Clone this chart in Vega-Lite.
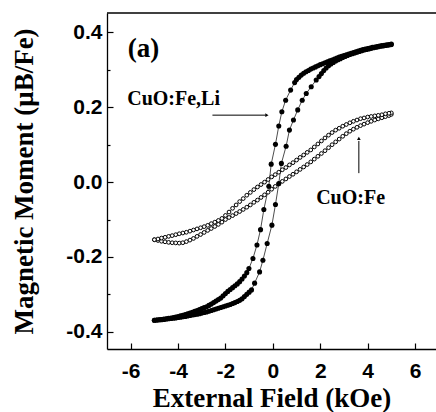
{
"$schema":"https://vega.github.io/schema/vega-lite/v6.json",
"width":329,"height":336,
"autosize":{"type":"none"},
"padding":{"left":107,"top":13,"right":0,"bottom":63},
"background":"white",
"config":{"view":{"stroke":null}},
"datasets":{
"loops":[
{"s":"L","x":-5.0,"y":-0.369},{"s":"L","x":-4.9,"y":-0.3685},{"s":"L","x":-4.8,"y":-0.368},{"s":"L","x":-4.7,"y":-0.3675},{"s":"L","x":-4.6,"y":-0.367},{"s":"L","x":-4.5,"y":-0.366},{"s":"L","x":-4.4,"y":-0.365},{"s":"L","x":-4.3,"y":-0.3645},{"s":"L","x":-4.2,"y":-0.364},{"s":"L","x":-4.1,"y":-0.363},{"s":"L","x":-4.0,"y":-0.362},{"s":"L","x":-3.9,"y":-0.361},{"s":"L","x":-3.8,"y":-0.360},{"s":"L","x":-3.7,"y":-0.359},{"s":"L","x":-3.6,"y":-0.358},{"s":"L","x":-3.5,"y":-0.3565},{"s":"L","x":-3.4,"y":-0.355},{"s":"L","x":-3.3,"y":-0.354},{"s":"L","x":-3.2,"y":-0.353},{"s":"L","x":-3.1,"y":-0.3515},{"s":"L","x":-3.0,"y":-0.350},{"s":"L","x":-2.9,"y":-0.3485},{"s":"L","x":-2.8,"y":-0.347},{"s":"L","x":-2.7,"y":-0.345},{"s":"L","x":-2.6,"y":-0.343},{"s":"L","x":-2.5,"y":-0.341},{"s":"L","x":-2.4,"y":-0.339},{"s":"L","x":-2.3,"y":-0.337},{"s":"L","x":-2.2,"y":-0.335},{"s":"L","x":-2.1,"y":-0.333},{"s":"L","x":-2.0,"y":-0.331},{"s":"L","x":-1.9,"y":-0.329},{"s":"L","x":-1.8,"y":-0.327},{"s":"L","x":-1.7,"y":-0.3245},{"s":"L","x":-1.6,"y":-0.322},{"s":"L","x":-1.5,"y":-0.319},{"s":"L","x":-1.4,"y":-0.316},{"s":"L","x":-1.3,"y":-0.312},{"s":"L","x":-1.2,"y":-0.306},{"s":"L","x":-1.1,"y":-0.300},{"s":"L","x":-1.0,"y":-0.294},{"s":"L","x":-0.9,"y":-0.288},{"s":"L","x":-0.77,"y":-0.270},{"s":"L","x":-0.56,"y":-0.240},{"s":"L","x":-0.42,"y":-0.209},{"s":"L","x":-0.24,"y":-0.164},{"s":"L","x":-0.04,"y":-0.115},{"s":"L","x":0.11,"y":-0.060},{"s":"L","x":0.25,"y":-0.004},{"s":"L","x":0.36,"y":0.050},{"s":"L","x":0.56,"y":0.096},{"s":"L","x":0.70,"y":0.139},{"s":"L","x":0.87,"y":0.166},{"s":"L","x":1.05,"y":0.193},{"s":"L","x":1.24,"y":0.219},{"s":"L","x":1.41,"y":0.237},{"s":"L","x":1.62,"y":0.255},{"s":"L","x":1.83,"y":0.273},{"s":"L","x":1.95,"y":0.282},{"s":"L","x":2.05,"y":0.290},{"s":"L","x":2.15,"y":0.298},{"s":"L","x":2.25,"y":0.305},{"s":"L","x":2.35,"y":0.311},{"s":"L","x":2.45,"y":0.316},{"s":"L","x":2.55,"y":0.320},{"s":"L","x":2.65,"y":0.324},{"s":"L","x":2.75,"y":0.327},{"s":"L","x":2.85,"y":0.330},{"s":"L","x":2.95,"y":0.333},{"s":"L","x":3.05,"y":0.336},{"s":"L","x":3.15,"y":0.3385},{"s":"L","x":3.25,"y":0.341},{"s":"L","x":3.35,"y":0.343},{"s":"L","x":3.45,"y":0.345},{"s":"L","x":3.55,"y":0.347},{"s":"L","x":3.65,"y":0.349},{"s":"L","x":3.75,"y":0.351},{"s":"L","x":3.85,"y":0.353},{"s":"L","x":3.95,"y":0.3545},{"s":"L","x":4.05,"y":0.356},{"s":"L","x":4.15,"y":0.3575},{"s":"L","x":4.25,"y":0.359},{"s":"L","x":4.35,"y":0.3605},{"s":"L","x":4.45,"y":0.362},{"s":"L","x":4.55,"y":0.363},{"s":"L","x":4.65,"y":0.364},{"s":"L","x":4.75,"y":0.365},{"s":"L","x":4.85,"y":0.366},{"s":"L","x":4.95,"y":0.367},{"s":"L","x":5.0,"y":0.368},
{"s":"L","x":5.0,"y":0.369},{"s":"L","x":4.9,"y":0.368},{"s":"L","x":4.8,"y":0.367},{"s":"L","x":4.7,"y":0.366},{"s":"L","x":4.6,"y":0.365},{"s":"L","x":4.5,"y":0.3635},{"s":"L","x":4.4,"y":0.362},{"s":"L","x":4.3,"y":0.361},{"s":"L","x":4.2,"y":0.360},{"s":"L","x":4.1,"y":0.3585},{"s":"L","x":4.0,"y":0.357},{"s":"L","x":3.9,"y":0.3555},{"s":"L","x":3.8,"y":0.354},{"s":"L","x":3.7,"y":0.352},{"s":"L","x":3.6,"y":0.350},{"s":"L","x":3.5,"y":0.348},{"s":"L","x":3.4,"y":0.346},{"s":"L","x":3.3,"y":0.344},{"s":"L","x":3.2,"y":0.342},{"s":"L","x":3.1,"y":0.340},{"s":"L","x":3.0,"y":0.338},{"s":"L","x":2.9,"y":0.336},{"s":"L","x":2.8,"y":0.334},{"s":"L","x":2.7,"y":0.3315},{"s":"L","x":2.6,"y":0.329},{"s":"L","x":2.5,"y":0.3265},{"s":"L","x":2.4,"y":0.324},{"s":"L","x":2.3,"y":0.3215},{"s":"L","x":2.2,"y":0.319},{"s":"L","x":2.1,"y":0.3165},{"s":"L","x":2.0,"y":0.314},{"s":"L","x":1.9,"y":0.311},{"s":"L","x":1.8,"y":0.308},{"s":"L","x":1.7,"y":0.305},{"s":"L","x":1.6,"y":0.302},{"s":"L","x":1.5,"y":0.2985},{"s":"L","x":1.4,"y":0.295},{"s":"L","x":1.3,"y":0.291},{"s":"L","x":1.2,"y":0.286},{"s":"L","x":1.1,"y":0.280},{"s":"L","x":1.0,"y":0.274},{"s":"L","x":0.92,"y":0.266},{"s":"L","x":0.75,"y":0.246},{"s":"L","x":0.54,"y":0.219},{"s":"L","x":0.38,"y":0.188},{"s":"L","x":0.25,"y":0.150},{"s":"L","x":0.11,"y":0.101},{"s":"L","x":-0.07,"y":0.048},{"s":"L","x":-0.17,"y":-0.011},{"s":"L","x":-0.38,"y":-0.073},{"s":"L","x":-0.52,"y":-0.127},{"s":"L","x":-0.67,"y":-0.168},{"s":"L","x":-0.84,"y":-0.204},{"s":"L","x":-1.01,"y":-0.231},{"s":"L","x":-1.1,"y":-0.242},{"s":"L","x":-1.2,"y":-0.251},{"s":"L","x":-1.3,"y":-0.259},{"s":"L","x":-1.4,"y":-0.266},{"s":"L","x":-1.5,"y":-0.272},{"s":"L","x":-1.6,"y":-0.277},{"s":"L","x":-1.7,"y":-0.282},{"s":"L","x":-1.8,"y":-0.287},{"s":"L","x":-1.9,"y":-0.292},{"s":"L","x":-2.0,"y":-0.298},{"s":"L","x":-2.1,"y":-0.304},{"s":"L","x":-2.2,"y":-0.310},{"s":"L","x":-2.3,"y":-0.314},{"s":"L","x":-2.4,"y":-0.318},{"s":"L","x":-2.5,"y":-0.322},{"s":"L","x":-2.6,"y":-0.326},{"s":"L","x":-2.7,"y":-0.3295},{"s":"L","x":-2.8,"y":-0.333},{"s":"L","x":-2.9,"y":-0.3355},{"s":"L","x":-3.0,"y":-0.338},{"s":"L","x":-3.1,"y":-0.3405},{"s":"L","x":-3.2,"y":-0.343},{"s":"L","x":-3.3,"y":-0.3455},{"s":"L","x":-3.4,"y":-0.348},{"s":"L","x":-3.5,"y":-0.350},{"s":"L","x":-3.6,"y":-0.352},{"s":"L","x":-3.7,"y":-0.354},{"s":"L","x":-3.8,"y":-0.356},{"s":"L","x":-3.9,"y":-0.3575},{"s":"L","x":-4.0,"y":-0.359},{"s":"L","x":-4.1,"y":-0.3605},{"s":"L","x":-4.2,"y":-0.362},{"s":"L","x":-4.3,"y":-0.363},{"s":"L","x":-4.4,"y":-0.364},{"s":"L","x":-4.5,"y":-0.365},{"s":"L","x":-4.6,"y":-0.366},{"s":"L","x":-4.7,"y":-0.367},{"s":"L","x":-4.8,"y":-0.368},{"s":"L","x":-4.9,"y":-0.3685},{"s":"L","x":-5.0,"y":-0.369},
{"s":"F","x":-5.0,"y":-0.154},{"s":"F","x":-4.85,"y":-0.156},{"s":"F","x":-4.7,"y":-0.158},{"s":"F","x":-4.55,"y":-0.1595},{"s":"F","x":-4.4,"y":-0.161},{"s":"F","x":-4.25,"y":-0.162},{"s":"F","x":-4.1,"y":-0.1625},{"s":"F","x":-3.95,"y":-0.163},{"s":"F","x":-3.8,"y":-0.162},{"s":"F","x":-3.65,"y":-0.159},{"s":"F","x":-3.5,"y":-0.155},{"s":"F","x":-3.35,"y":-0.1505},{"s":"F","x":-3.2,"y":-0.145},{"s":"F","x":-3.05,"y":-0.140},{"s":"F","x":-2.9,"y":-0.1345},{"s":"F","x":-2.75,"y":-0.129},{"s":"F","x":-2.6,"y":-0.124},{"s":"F","x":-2.45,"y":-0.1185},{"s":"F","x":-2.3,"y":-0.113},{"s":"F","x":-2.15,"y":-0.107},{"s":"F","x":-2.0,"y":-0.100},{"s":"F","x":-1.85,"y":-0.0945},{"s":"F","x":-1.7,"y":-0.0895},{"s":"F","x":-1.55,"y":-0.084},{"s":"F","x":-1.4,"y":-0.0785},{"s":"F","x":-1.25,"y":-0.073},{"s":"F","x":-1.1,"y":-0.067},{"s":"F","x":-0.95,"y":-0.061},{"s":"F","x":-0.8,"y":-0.054},{"s":"F","x":-0.65,"y":-0.048},{"s":"F","x":-0.5,"y":-0.041},{"s":"F","x":-0.35,"y":-0.034},{"s":"F","x":-0.2,"y":-0.027},{"s":"F","x":-0.05,"y":-0.019},{"s":"F","x":0.1,"y":-0.0115},{"s":"F","x":0.25,"y":-0.005},{"s":"F","x":0.4,"y":0.002},{"s":"F","x":0.55,"y":0.0085},{"s":"F","x":0.7,"y":0.015},{"s":"F","x":0.85,"y":0.021},{"s":"F","x":1.0,"y":0.0275},{"s":"F","x":1.15,"y":0.034},{"s":"F","x":1.3,"y":0.0405},{"s":"F","x":1.45,"y":0.047},{"s":"F","x":1.6,"y":0.054},{"s":"F","x":1.75,"y":0.0615},{"s":"F","x":1.9,"y":0.069},{"s":"F","x":2.05,"y":0.0765},{"s":"F","x":2.2,"y":0.084},{"s":"F","x":2.35,"y":0.092},{"s":"F","x":2.5,"y":0.100},{"s":"F","x":2.65,"y":0.1075},{"s":"F","x":2.8,"y":0.115},{"s":"F","x":2.95,"y":0.1225},{"s":"F","x":3.1,"y":0.1295},{"s":"F","x":3.25,"y":0.136},{"s":"F","x":3.4,"y":0.1415},{"s":"F","x":3.55,"y":0.1465},{"s":"F","x":3.7,"y":0.151},{"s":"F","x":3.85,"y":0.155},{"s":"F","x":4.0,"y":0.159},{"s":"F","x":4.15,"y":0.1625},{"s":"F","x":4.3,"y":0.166},{"s":"F","x":4.45,"y":0.169},{"s":"F","x":4.6,"y":0.172},{"s":"F","x":4.75,"y":0.175},{"s":"F","x":4.9,"y":0.178},{"s":"F","x":5.0,"y":0.181},
{"s":"F","x":5.0,"y":0.185},{"s":"F","x":4.9,"y":0.184},{"s":"F","x":4.75,"y":0.1825},{"s":"F","x":4.6,"y":0.180},{"s":"F","x":4.45,"y":0.1785},{"s":"F","x":4.3,"y":0.177},{"s":"F","x":4.15,"y":0.1755},{"s":"F","x":4.0,"y":0.174},{"s":"F","x":3.85,"y":0.1715},{"s":"F","x":3.7,"y":0.1695},{"s":"F","x":3.55,"y":0.166},{"s":"F","x":3.4,"y":0.1625},{"s":"F","x":3.25,"y":0.1585},{"s":"F","x":3.1,"y":0.154},{"s":"F","x":2.95,"y":0.1495},{"s":"F","x":2.8,"y":0.144},{"s":"F","x":2.65,"y":0.139},{"s":"F","x":2.5,"y":0.1325},{"s":"F","x":2.35,"y":0.1255},{"s":"F","x":2.2,"y":0.118},{"s":"F","x":2.05,"y":0.110},{"s":"F","x":1.9,"y":0.102},{"s":"F","x":1.75,"y":0.094},{"s":"F","x":1.6,"y":0.086},{"s":"F","x":1.45,"y":0.0795},{"s":"F","x":1.3,"y":0.0725},{"s":"F","x":1.15,"y":0.066},{"s":"F","x":1.0,"y":0.059},{"s":"F","x":0.85,"y":0.052},{"s":"F","x":0.7,"y":0.046},{"s":"F","x":0.55,"y":0.039},{"s":"F","x":0.4,"y":0.033},{"s":"F","x":0.25,"y":0.0265},{"s":"F","x":0.1,"y":0.020},{"s":"F","x":-0.05,"y":0.014},{"s":"F","x":-0.2,"y":0.007},{"s":"F","x":-0.35,"y":0.000},{"s":"F","x":-0.5,"y":-0.0065},{"s":"F","x":-0.65,"y":-0.013},{"s":"F","x":-0.8,"y":-0.020},{"s":"F","x":-0.95,"y":-0.0275},{"s":"F","x":-1.1,"y":-0.035},{"s":"F","x":-1.25,"y":-0.044},{"s":"F","x":-1.4,"y":-0.052},{"s":"F","x":-1.55,"y":-0.061},{"s":"F","x":-1.7,"y":-0.070},{"s":"F","x":-1.85,"y":-0.080},{"s":"F","x":-2.0,"y":-0.089},{"s":"F","x":-2.15,"y":-0.097},{"s":"F","x":-2.3,"y":-0.1025},{"s":"F","x":-2.45,"y":-0.107},{"s":"F","x":-2.6,"y":-0.111},{"s":"F","x":-2.75,"y":-0.1155},{"s":"F","x":-2.9,"y":-0.119},{"s":"F","x":-3.05,"y":-0.122},{"s":"F","x":-3.2,"y":-0.125},{"s":"F","x":-3.35,"y":-0.128},{"s":"F","x":-3.5,"y":-0.131},{"s":"F","x":-3.65,"y":-0.134},{"s":"F","x":-3.8,"y":-0.136},{"s":"F","x":-3.95,"y":-0.138},{"s":"F","x":-4.1,"y":-0.1405},{"s":"F","x":-4.25,"y":-0.143},{"s":"F","x":-4.4,"y":-0.145},{"s":"F","x":-4.55,"y":-0.1475},{"s":"F","x":-4.7,"y":-0.1495},{"s":"F","x":-4.85,"y":-0.152},{"s":"F","x":-5.0,"y":-0.154}
],
"notes":[
{"k":"a","x":-5.46,"y":0.356,"t":"(a)"},
{"k":"n","x":-4.19,"y":0.222,"t":"CuO:Fe,Li"},
{"k":"n","x":3.28,"y":-0.043,"t":"CuO:Fe"}
],
"arrows":[
{"x":-2.55,"y":0.179,"x2":-0.3,"y2":0.179},
{"x":3.63,"y":0.024,"x2":3.63,"y2":0.11}
],
"heads":[
{"x":-0.25,"y":0.179,"d":"r"},
{"x":3.63,"y":0.117,"d":"u"}
]
},
"layer":[
{"data":{"name":"loops"},
 "mark":{"type":"line","color":"black","strokeWidth":0.7},
 "encoding":{
  "x":{"field":"x","type":"quantitative","scale":{"domain":[-7,6.886],"nice":false,"zero":false},
   "axis":{"values":[-6,-5,-4,-3,-2,-1,0,1,2,3,4,5,6],
    "labelExpr":"datum.value % 2 === 0 ? toString(datum.value) : ''",
    "tickSize":{"condition":{"test":"datum.value % 2 === 0","value":-6},"value":-3},
    "labelPadding":34,"labelBaseline":"alphabetic","labelFlush":false,"labelOverlap":false,
    "labelFont":"Liberation Sans","labelFontWeight":"bold","labelFontSize":21,"labelColor":"black",
    "domainColor":"black","domainWidth":1.3,"tickColor":"black","tickWidth":1.2,"grid":false,
    "title":"External Field (kOe)","titleFont":"Liberation Serif","titleFontSize":27,"titleFontWeight":"bold","titleColor":"black","titleBaseline":"alphabetic","titleY":57}},
  "y":{"field":"y","type":"quantitative","scale":{"domain":[-0.446,0.452],"nice":false,"zero":false},
   "axis":{"values":[-0.4,-0.3,-0.2,-0.1,0,0.1,0.2,0.3,0.4],
    "labelExpr":"round(datum.value*10) % 2 === 0 ? replace(format(datum.value,'.1f'),'\u2212','-') : ''",
    "tickSize":{"condition":{"test":"round(datum.value*10) % 2 === 0","value":-6},"value":-3},
    "labelPadding":11,"labelFlush":false,"labelOverlap":false,
    "labelFont":"Liberation Sans","labelFontWeight":"bold","labelFontSize":21,"labelColor":"black",
    "domainColor":"black","domainWidth":1.3,"tickColor":"black","tickWidth":1.2,"grid":false,
    "title":"Magnetic Moment (μB/Fe)","titleFont":"Liberation Serif","titleFontSize":27,"titleFontWeight":"bold","titleColor":"black","titleBaseline":"alphabetic","titleX":-75,"titleY":168}},
  "detail":{"field":"s"},
  "order":{"value":null}
 }},
{"data":{"name":"loops"},"transform":[{"filter":"datum.s === 'F'"}],
 "mark":{"type":"point","shape":"circle","filled":true,"fill":"white","stroke":"black","strokeWidth":1,"size":14,"opacity":1},
 "encoding":{"x":{"field":"x","type":"quantitative"},"y":{"field":"y","type":"quantitative"}}},
{"data":{"name":"loops"},"transform":[{"filter":"datum.s === 'L'"}],
 "mark":{"type":"circle","color":"black","size":26,"opacity":1},
 "encoding":{"x":{"field":"x","type":"quantitative"},"y":{"field":"y","type":"quantitative"}}},
{"data":{"values":[{}]},
 "mark":{"type":"rule","color":"black","strokeWidth":1.3},
 "encoding":{"y":{"datum":0.452}}},
{"data":{"name":"arrows"},
 "mark":{"type":"rule","color":"black","strokeWidth":1},
 "encoding":{"x":{"field":"x","type":"quantitative"},"y":{"field":"y","type":"quantitative"},"x2":{"field":"x2"},"y2":{"field":"y2"}}},
{"data":{"name":"heads"},
 "mark":{"type":"point","filled":true,"color":"black","size":14,"opacity":1},
 "encoding":{"x":{"field":"x","type":"quantitative"},"y":{"field":"y","type":"quantitative"},
  "shape":{"field":"d","type":"nominal","scale":{"domain":["r","u"],"range":["triangle-right","triangle-up"]},"legend":null}}},
{"data":{"name":"notes"},"transform":[{"filter":"datum.k === 'a'"}],
 "mark":{"type":"text","font":"Liberation Serif","fontWeight":"bold","fontSize":27,"color":"black","align":"center","baseline":"middle"},
 "encoding":{"x":{"field":"x","type":"quantitative"},"y":{"field":"y","type":"quantitative"},"text":{"field":"t"}}},
{"data":{"name":"notes"},"transform":[{"filter":"datum.k === 'n'"}],
 "mark":{"type":"text","font":"Liberation Serif","fontWeight":"bold","fontSize":20,"color":"black","align":"center","baseline":"middle"},
 "encoding":{"x":{"field":"x","type":"quantitative"},"y":{"field":"y","type":"quantitative"},"text":{"field":"t"}}}
]
}
